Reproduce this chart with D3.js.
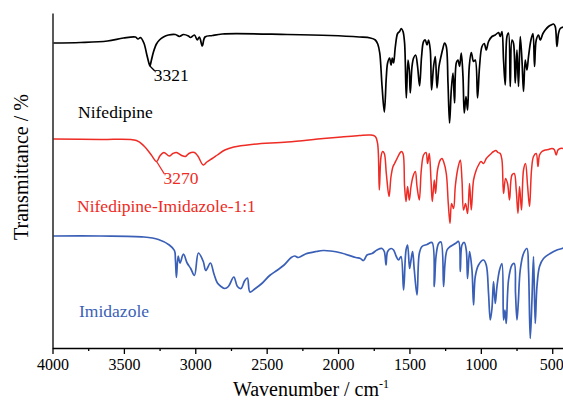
<!DOCTYPE html>
<html lang="en">
<head>
	<meta charset="utf-8">
	<title>FTIR spectra</title>
	<script src="https://d3js.org/d3.v7.min.js"></script>
	<style type="text/css">
		body { margin: 0; background: #fff; }
		.axis path,
		.axis line {
			fill: none;
			stroke: black;
			stroke-width: 1.3px;
		}
		.spec {
			fill: none;
			stroke-linejoin: round;
		}
	</style>
</head>
<body>
<script type="text/javascript">
// Spectra: [wavenumber (cm-1), transmittance (a.u., offset stacked)]
var nifedipine = [
	[3993,61.0],[3804,61.1],[3615,61.4],[3503,62.0],[3419,62.2],[3401,61.8],[3384,62.1],[3360,61.0],
	[3339,58.6],[3325,57.0],[3318,56.4],[3307,57.6],[3293,59.2],[3272,60.8],[3251,61.6],[3223,62.2],
	[3188,62.6],[3139,62.7],[3111,62.3],[3083,62.7],[3048,62.4],[3034,62.1],[3006,62.6],[2986,61.6],
	[2971,62.2],[2951,60.4],[2932,62.2],[2880,62.5],[2810,62.8],[2355,62.7],[2054,62.5],[1851,62.2],
	[1774,62.0],[1739,61.6],[1722,60.8],[1708,59.0],[1692,52.4],[1676,47.2],[1662,54.2],[1653,57.0],
	[1639,58.0],[1629,56.6],[1620,58.0],[1611,57.0],[1599,60.2],[1583,62.9],[1569,63.3],[1557,63.9],
	[1545,63.3],[1534,61.0],[1522,50.0],[1510,57.6],[1501,55.6],[1494,51.0],[1482,56.3],[1471,58.0],
	[1457,58.6],[1443,56.3],[1429,52.4],[1415,58.3],[1401,61.3],[1389,61.6],[1377,60.6],[1366,61.6],
	[1354,59.6],[1345,51.6],[1331,56.3],[1319,58.3],[1307,52.0],[1293,56.3],[1279,58.3],[1265,60.0],
	[1254,61.0],[1242,60.3],[1230,53.0],[1219,45.0],[1207,51.6],[1195,55.0],[1184,49.0],[1172,57.0],
	[1160,57.6],[1149,56.3],[1137,59.0],[1125,54.3],[1116,47.0],[1104,50.3],[1093,47.6],[1081,56.3],
	[1067,59.1],[1051,57.3],[1039,57.6],[1023,50.0],[1009,56.3],[992,60.3],[976,60.9],[962,59.6],
	[946,61.3],[922,62.3],[899,62.6],[876,63.1],[864,62.3],[852,63.3],[841,57.6],[829,52.6],
	[817,62.3],[806,63.0],[794,52.3],[782,61.6],[771,60.9],[759,53.0],[747,59.6],[736,52.3],
	[724,62.3],[712,57.6],[701,51.3],[689,57.6],[677,55.6],[666,58.3],[649,61.6],[635,62.9],
	[624,56.3],[612,61.6],[596,62.6],[584,61.6],[565,62.9],[549,63.6],[526,64.3],[509,64.6],
	[491,64.8],[479,64.3],[467,60.3],[456,62.9],[444,63.9],[423,64.2]
];

var complex11 = [
	[3993,41.8],[3664,41.7],[3412,41.5],[3359,40.4],[3308,38.6],[3271,37.3],[3248,38.4],[3220,39.1],
	[3182,38.4],[3157,38.9],[3132,39.1],[3095,38.5],[3069,38.3],[3045,38.9],[3006,39.1],[2982,38.4],
	[2944,36.6],[2919,37.2],[2881,37.9],[2845,38.6],[2793,39.6],[2730,40.2],[2605,40.7],[2355,41.2],
	[2103,41.9],[1977,42.2],[1851,42.5],[1774,42.6],[1739,42.3],[1723,40.9],[1711,31.6],[1699,38.3],
	[1688,39.3],[1676,38.9],[1662,34.9],[1643,30.3],[1629,34.3],[1615,36.3],[1604,36.9],[1592,37.6],
	[1580,38.3],[1569,38.9],[1557,39.3],[1545,38.9],[1534,32.3],[1524,29.3],[1513,32.3],[1501,29.6],
	[1489,32.3],[1475,34.3],[1459,35.3],[1447,32.3],[1431,29.6],[1417,35.6],[1401,38.6],[1384,39.1],
	[1373,36.9],[1361,38.9],[1349,33.6],[1340,29.3],[1326,33.6],[1317,30.9],[1303,35.6],[1284,37.6],
	[1272,37.9],[1261,37.3],[1242,34.9],[1228,28.9],[1216,24.9],[1205,28.9],[1191,27.9],[1179,32.3],
	[1163,35.6],[1144,37.6],[1132,33.6],[1121,27.6],[1107,28.9],[1093,26.9],[1079,32.9],[1067,27.6],
	[1051,33.6],[1032,35.6],[1016,36.6],[999,37.3],[981,36.9],[962,37.9],[946,38.4],[927,38.9],
	[911,39.3],[894,39.5],[880,39.1],[864,38.9],[852,37.6],[841,30.9],[827,33.9],[813,32.9],
	[799,29.6],[782,34.6],[766,34.9],[752,31.6],[740,26.9],[729,32.3],[715,27.6],[701,35.6],
	[687,36.9],[673,32.6],[659,28.3],[645,35.6],[631,38.3],[612,38.9],[600,36.3],[589,38.6],
	[572,39.3],[549,39.6],[526,39.7],[502,39.9],[486,39.7],[472,38.6],[460,39.6],[444,39.9],[423,39.9]
];

var imidazole = [
	[3993,22.4],[3664,22.4],[3359,22.2],[3258,21.7],[3182,20.6],[3146,19.5],[3139,17.6],[3132,14.1],
	[3120,18.4],[3107,17.0],[3083,18.8],[3057,17.0],[3032,15.9],[3006,14.5],[2978,19.0],[2944,17.3],
	[2926,15.5],[2894,17.0],[2869,14.8],[2845,13.0],[2820,12.3],[2793,11.9],[2768,12.3],[2730,14.2],
	[2705,12.3],[2680,11.9],[2655,13.4],[2635,14.0],[2617,11.2],[2579,11.9],[2530,13.0],[2479,14.5],
	[2429,15.5],[2378,16.6],[2328,18.1],[2303,18.4],[2278,18.1],[2228,18.8],[2152,19.3],[2103,19.5],
	[2052,19.4],[1977,19.0],[1876,18.1],[1844,17.9],[1821,17.5],[1797,18.6],[1762,18.9],[1727,19.6],
	[1692,19.9],[1676,19.3],[1664,16.6],[1653,19.3],[1629,19.9],[1611,19.6],[1592,18.3],[1576,17.6],
	[1559,18.3],[1541,11.6],[1524,19.6],[1513,20.6],[1499,15.9],[1489,17.6],[1478,19.3],[1466,15.6],
	[1447,10.6],[1431,18.9],[1412,20.3],[1377,20.7],[1342,21.1],[1326,12.3],[1314,18.3],[1296,20.9],
	[1279,21.2],[1261,12.3],[1251,16.9],[1237,19.6],[1214,20.3],[1179,20.9],[1156,21.3],[1144,15.3],
	[1132,20.6],[1116,21.1],[1102,19.6],[1093,13.9],[1079,19.3],[1062,15.6],[1051,8.6],[1039,14.3],
	[1016,16.6],[981,17.6],[962,16.6],[946,10.9],[934,5.6],[922,7.9],[911,13.3],[899,8.9],
	[887,12.3],[869,15.6],[852,16.9],[841,5.6],[831,7.6],[822,4.9],[806,13.6],[782,16.6],
	[766,16.9],[757,10.9],[747,5.6],[738,8.9],[724,15.6],[701,18.9],[677,19.9],[666,15.6],
	[654,1.9],[642,9.6],[631,18.3],[619,4.9],[607,12.3],[589,16.3],[561,17.9],[514,18.9],
	[467,19.6],[432,19.9],[423,20.0]
];

var seriesNames = ["Nifedipine", "Nifedipine-Imidazole-1:1", "Imidazole"];
var seriesColors = ["#000000", "#ee2b24", "#3a5fb6"];
// where each series name sits: [wavenumber, a.u.]
var nameAnchors = [[3821, 46.0], [3828, 27.2], [3814, 6.2]];
// marked peaks: [peak wavenumber, value at peak, label wavenumber, label value]
var peakMarks = [[3318, 56.4, 3290, 53.4], [3271, 37.3, 3223, 32.8]];
var peakText = ["3321", "3270"];
var xTicks = [4000, 3500, 3000, 2500, 2000, 1500, 1000, 500];

var serif = "'Liberation Serif', 'Times New Roman', Times, serif";
var width = 563, height = 404;
var svg = d3.select("body")
			.append("svg")
			.attr("width", width)
			.attr("height", height)
			.style("font-family", serif);

// x axis runs high to low wavenumber
var xScale = d3.scaleLinear()
				.domain([4000, 400])
				.range([52.5, 566.5]);

var yScale = d3.scaleLinear()
				.domain([0, 67])
				.range([348, 13]);

var line = d3.line()
			.x(function(d) { return xScale(d[0]); })
			.y(function(d) { return yScale(d[1]); })
			.curve(d3.curveCatmullRom.alpha(0.5));

var allSeries = [nifedipine, complex11, imidazole];

svg.selectAll(".spec")
	.data(allSeries)
	.enter()
	.append("path")
	.attr("class", "spec")
	.attr("d", line)
	.style("stroke", function(d, i) { return seriesColors[i]; })
	.style("stroke-width", function(d, i) { return i == 1 ? 1.5 : 1.7; });

// little leader lines from the peak to its number
svg.selectAll(".leader")
	.data(peakMarks)
	.enter()
	.append("line")
	.attr("class", "leader")
	.attr("x1", function(d) { return xScale(d[0]); })
	.attr("y1", function(d) { return yScale(d[1]); })
	.attr("x2", function(d) { return xScale(d[2]) + 1; })
	.attr("y2", function(d) { return yScale(d[3]) - 10; })
	.style("stroke", function(d, i) { return seriesColors[i]; })
	.style("stroke-width", 1.3);

svg.selectAll(".peak")
	.data(peakMarks)
	.enter()
	.append("text")
	.attr("x", function(d) { return xScale(d[2]); })
	.attr("y", function(d) { return yScale(d[3]); })
	.style("font-family", serif)
	.style("font-size", "17.5px")
	.style("fill", function(d, i) { return seriesColors[i]; })
	.text(function(d, i) { return peakText[i]; });

svg.selectAll(".name")
	.data(seriesNames)
	.enter()
	.append("text")
	.attr("x", function(d, i) { return xScale(nameAnchors[i][0]); })
	.attr("y", function(d, i) { return yScale(nameAnchors[i][1]); })
	.style("font-family", serif)
	.style("font-size", "17.5px")
	.style("fill", function(d, i) { return seriesColors[i]; })
	.text(function(d) { return d; });

// bottom axis with major and minor ticks
var xAxis = d3.axisBottom(xScale)
			.tickValues(xTicks)
			.tickSize(6)
			.tickSizeOuter(0)
			.tickPadding(5)
			.tickFormat(d3.format("d"));

var gx = svg.append("g")
	.attr("class", "axis")
	.attr("transform", "translate(0,348)")
	.call(xAxis);
gx.selectAll("text")
	.style("font-family", serif)
	.style("font-size", "16px")
	.style("fill", "black")
	.attr("dx", function(d) { return d == 500 ? -1 : 0; });

var minor = d3.range(3750, 400, -500);
svg.append("g")
	.attr("class", "axis")
	.attr("transform", "translate(0,348)")
	.call(d3.axisBottom(xScale).tickValues(minor).tickSize(3).tickSizeOuter(0).tickFormat(""))
	.select(".domain").remove();

// left axis: a plain line, no ticks
svg.append("g")
	.attr("class", "axis")
	.attr("transform", "translate(52.5,0)")
	.call(d3.axisLeft(yScale).tickValues([]).tickSizeOuter(0));

// axis titles
var xt = svg.append("text")
	.attr("x", 311)
	.attr("y", 396)
	.attr("text-anchor", "middle")
	.style("font-family", serif)
	.style("font-size", "20px");
xt.append("tspan").text("Wavenumber / cm");
xt.append("tspan").attr("dy", -8).style("font-size", "12px").text("-1");

svg.append("text")
	.attr("transform", "translate(28,167) rotate(-90)")
	.attr("text-anchor", "middle")
	.style("font-family", serif)
	.style("font-size", "20px")
	.text("Transmittance / %");
</script>
</body>
</html>
